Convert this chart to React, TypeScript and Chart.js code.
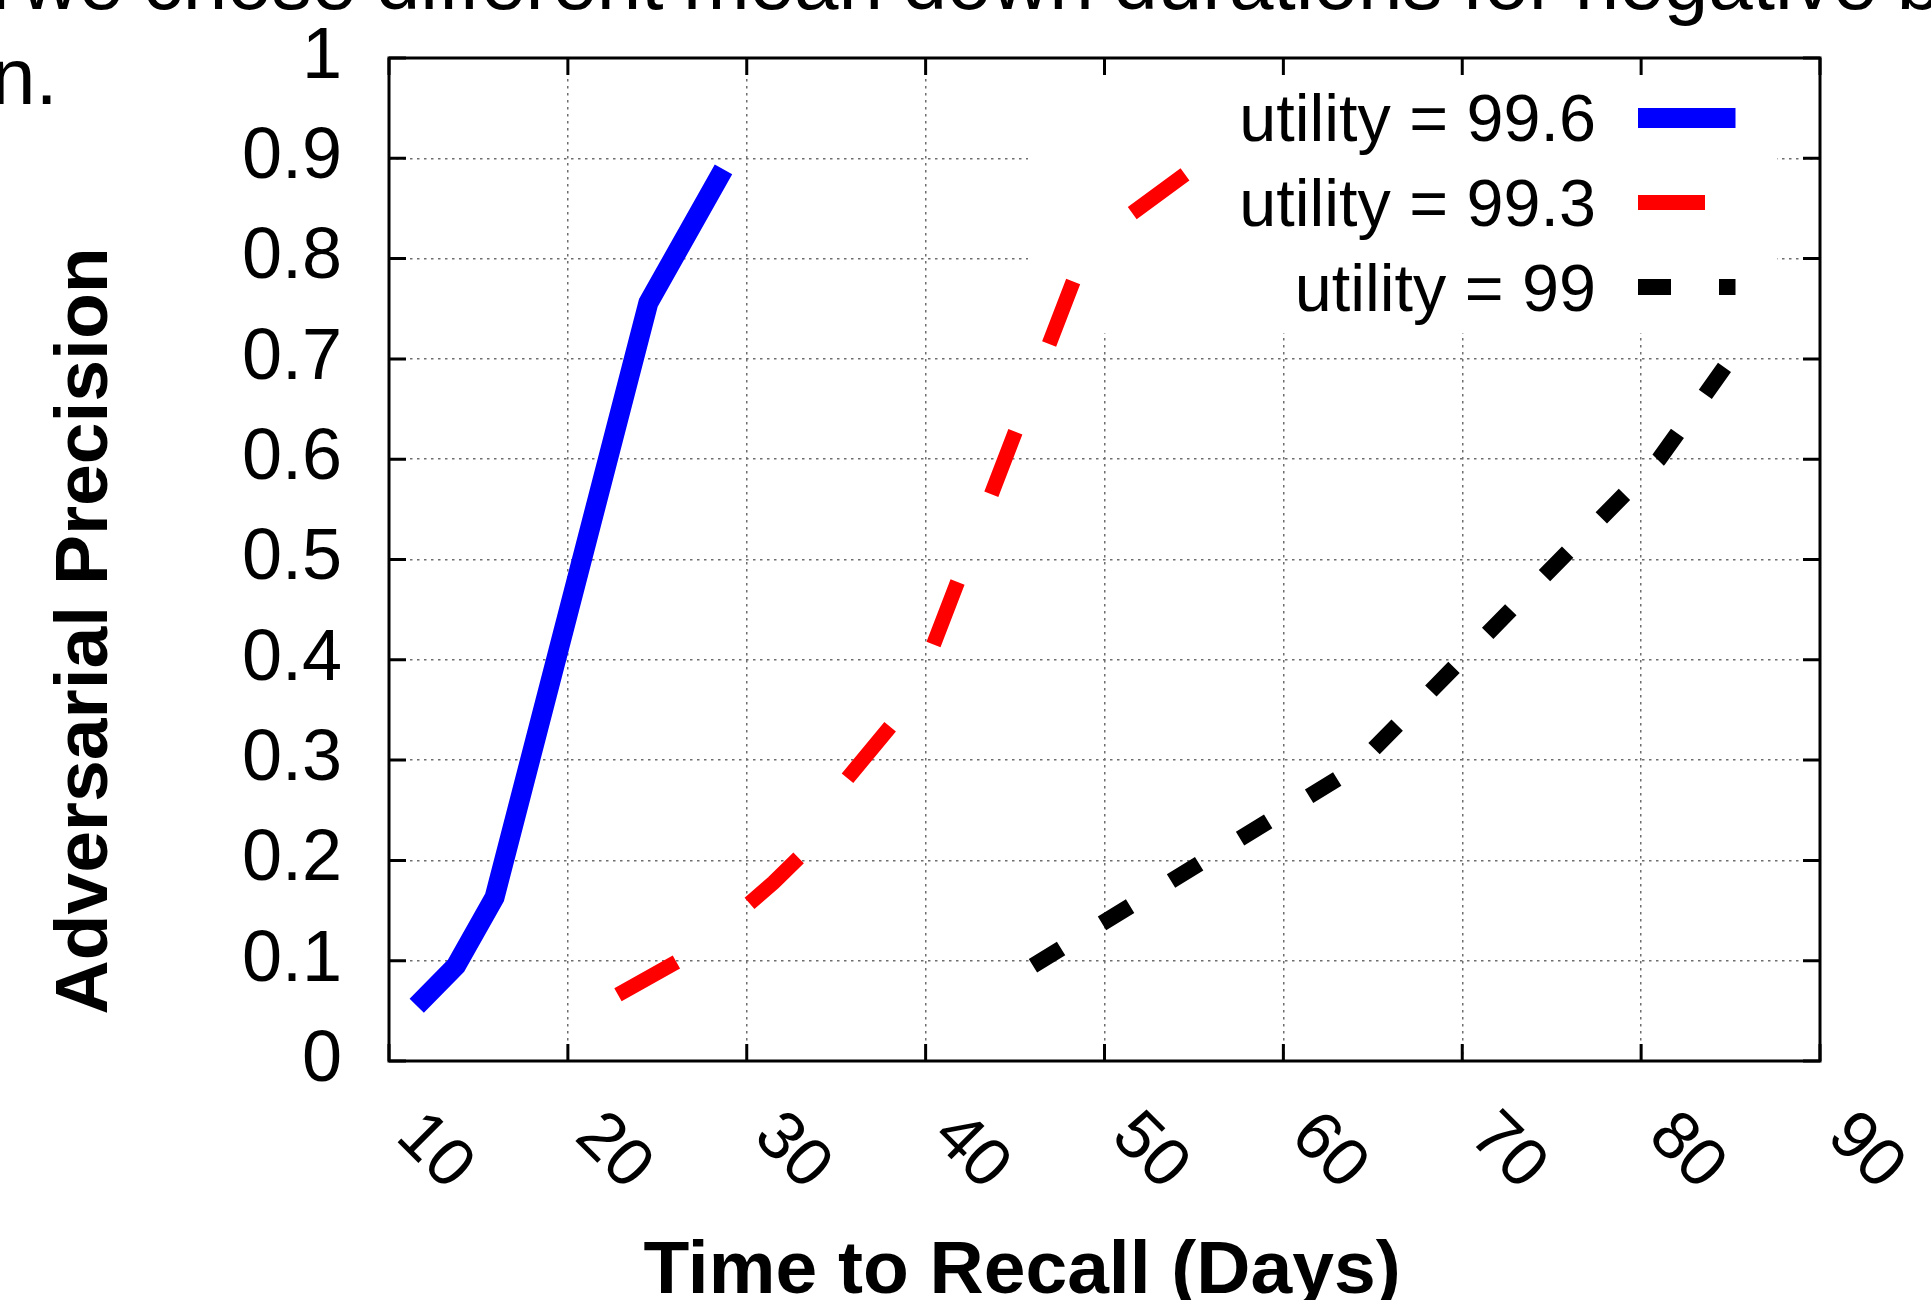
import React, { useEffect, useRef } from 'react';
import { Chart, registerables } from 'chart.js';

Chart.register(...registerables);

// ---- data ----
const xTickLabels = ['10', '20', '30', '40', '50', '60', '70', '80', '90'];
const yTickLabels = ['0', '0.1', '0.2', '0.3', '0.4', '0.5', '0.6', '0.7', '0.8', '0.9', '1'];
const seriesNames = ['utility = 99.6', 'utility = 99.3', 'utility = 99'];

const blueX = [11.55, 13.75, 15.9, 24.5, 28.7];
const blueY = [0.055, 0.095, 0.163, 0.756, 0.889];

const redX = [22.8, 27.0, 31.5, 33.5, 35.5, 39.25, 49.0, 54.5];
const redY = [0.066, 0.108, 0.178, 0.213, 0.279, 0.36, 0.812, 0.884];

const blackX = [46, 64, 81, 85];
const blackY = [0.095, 0.292, 0.6, 0.7];

const xTitle = 'Time to Recall (Days)';
const yTitle = 'Adversarial Precision';
const strayLine1a = 'f';
const strayLine1b = 'we chose different mean down durations for negative b';
const strayLine2 = 'n.';

const FONT = '"Liberation Sans", Arial, Helvetica, sans-serif';

const toPoints = (xs: number[], ys: number[]) => xs.map((x, i) => ({ x, y: ys[i] }));

const decorPlugin = {
  id: 'decor',
  beforeDatasetsDraw(chart: any) {
    const { ctx } = chart;
    // opaque key box
    ctx.save();
    ctx.fillStyle = '#ffffff';
    ctx.fillRect(1028, 58, 1777 - 1028, 333 - 58);
    ctx.restore();
  },
  afterDraw(chart: any) {
    const { ctx, chartArea } = chart;
    const { left, right, top, bottom } = chartArea;
    const xs = chart.scales.x;
    const ys = chart.scales.y;
    ctx.save();
    // border
    ctx.strokeStyle = '#000';
    ctx.lineWidth = 3;
    ctx.setLineDash([]);
    ctx.strokeRect(left, top, right - left, bottom - top);
    // inward tick marks
    const tl = 17;
    ctx.beginPath();
    xs.ticks.forEach((t: any) => {
      const px = xs.getPixelForValue(t.value);
      ctx.moveTo(px, bottom);
      ctx.lineTo(px, bottom - tl);
      ctx.moveTo(px, top);
      ctx.lineTo(px, top + tl);
    });
    ys.ticks.forEach((t: any) => {
      const py = ys.getPixelForValue(t.value);
      ctx.moveTo(left, py);
      ctx.lineTo(left + tl, py);
      ctx.moveTo(right, py);
      ctx.lineTo(right - tl, py);
    });
    ctx.stroke();

    // rotated x tick labels
    ctx.fillStyle = '#000';
    ctx.font = `68px ${FONT}`;
    ctx.textAlign = 'center';
    ctx.textBaseline = 'middle';
    xs.ticks.forEach((t: any, i: number) => {
      const px = xs.getPixelForValue(t.value);
      ctx.save();
      ctx.translate(px + 45, 1152);
      ctx.rotate(Math.PI / 4);
      ctx.fillText(xTickLabels[i] ?? String(t.value), 0, 0);
      ctx.restore();
    });

    // axis titles
    ctx.font = `bold 75px ${FONT}`;
    ctx.textBaseline = 'alphabetic';
    ctx.textAlign = 'center';
    ctx.fillText(xTitle, 1022, 1293);
    ctx.save();
    ctx.translate(107, 631);
    ctx.rotate(-Math.PI / 2);
    ctx.fillText(yTitle, 0, 0);
    ctx.restore();

    // key
    const baselines = [141, 226, 310.5];
    const centers = [118, 202.5, 287];
    ctx.font = `66.5px ${FONT}`;
    ctx.textAlign = 'right';
    chart.data.datasets.forEach((ds: any, i: number) => {
      ctx.fillStyle = '#000';
      ctx.fillText(ds.label, 1596, baselines[i]);
      ctx.save();
      ctx.strokeStyle = ds.borderColor;
      ctx.lineWidth = ds.borderWidth;
      ctx.lineCap = 'butt';
      ctx.setLineDash(ds.borderDash || []);
      ctx.beginPath();
      ctx.moveTo(1638, centers[i]);
      ctx.lineTo(1735.5, centers[i]);
      ctx.stroke();
      ctx.restore();
    });
    ctx.restore();
  },
};

export default function App() {
  const canvasRef = useRef<HTMLCanvasElement | null>(null);

  useEffect(() => {
    if (!canvasRef.current) return;
    const gridColor = '#6e6e6e';
    const chart = new Chart(canvasRef.current, {
      type: 'line',
      data: {
        datasets: [
          {
            label: seriesNames[0],
            data: toPoints(blueX, blueY),
            borderColor: '#0000ff',
            borderWidth: 20,
            borderDash: [],
            pointRadius: 0,
            tension: 0,
            fill: false,
            borderCapStyle: 'butt',
            borderJoinStyle: 'miter',
          },
          {
            label: seriesNames[1],
            data: toPoints(redX, redY),
            borderColor: '#ff0000',
            borderWidth: 15,
            borderDash: [67, 94],
            pointRadius: 0,
            tension: 0,
            fill: false,
            borderCapStyle: 'butt',
            borderJoinStyle: 'miter',
          },
          {
            label: seriesNames[2],
            data: toPoints(blackX, blackY),
            borderColor: '#000000',
            borderWidth: 16,
            borderDash: [33, 48],
            pointRadius: 0,
            tension: 0,
            fill: false,
            borderCapStyle: 'butt',
            borderJoinStyle: 'miter',
          },
        ],
      },
      options: {
        responsive: false,
        maintainAspectRatio: false,
        devicePixelRatio: 1,
        animation: false,
        layout: { padding: { left: 0, top: 58, right: 111, bottom: 0 } },
        plugins: {
          legend: { display: false },
          tooltip: { enabled: false },
        },
        scales: {
          x: {
            type: 'linear',
            min: 10,
            max: 90,
            ticks: { stepSize: 10, display: false },
            grid: { color: gridColor, lineWidth: 1.5, drawTicks: false },
            border: { display: false, dash: [2.5, 4.5] },
            afterFit: (s: any) => {
              s.height = 239;
              s.paddingLeft = 0;
              s.paddingRight = 0;
            },
          },
          y: {
            type: 'linear',
            min: 0,
            max: 1,
            ticks: {
              stepSize: 0.1,
              autoSkip: false,
              padding: 47,
              color: '#000',
              font: { size: 72, family: FONT },
              callback: (_v: any, i: number) => yTickLabels[i],
            },
            grid: { color: gridColor, lineWidth: 1.5, drawTicks: false },
            border: { display: false, dash: [2.5, 4.5] },
            afterFit: (s: any) => {
              s.width = 389;
              s.paddingTop = 0;
              s.paddingBottom = 0;
            },
          },
        },
      },
      plugins: [decorPlugin],
    } as any);
    return () => chart.destroy();
  }, []);

  const textStyle: React.CSSProperties = {
    position: 'absolute',
    fontFamily: FONT,
    fontSize: 80,
    lineHeight: '80px',
    whiteSpace: 'nowrap',
    color: '#000',
  };

  return (
    <div
      style={{
        position: 'fixed',
        left: 0,
        top: 0,
        width: 1931,
        height: 1300,
        overflow: 'hidden',
        background: '#fff',
      }}
    >
      <div style={{ ...textStyle, left: -10, top: -58 }}>{strayLine1a}</div>
      <div style={{ ...textStyle, left: 21, top: -58, wordSpacing: -2.7 }}>{strayLine1b}</div>
      <div style={{ ...textStyle, left: -9, top: 37 }}>{strayLine2}</div>
      <canvas
        ref={canvasRef}
        width={1931}
        height={1300}
        style={{ position: 'absolute', left: 0, top: 0, display: 'block' }}
      />
    </div>
  );
}
